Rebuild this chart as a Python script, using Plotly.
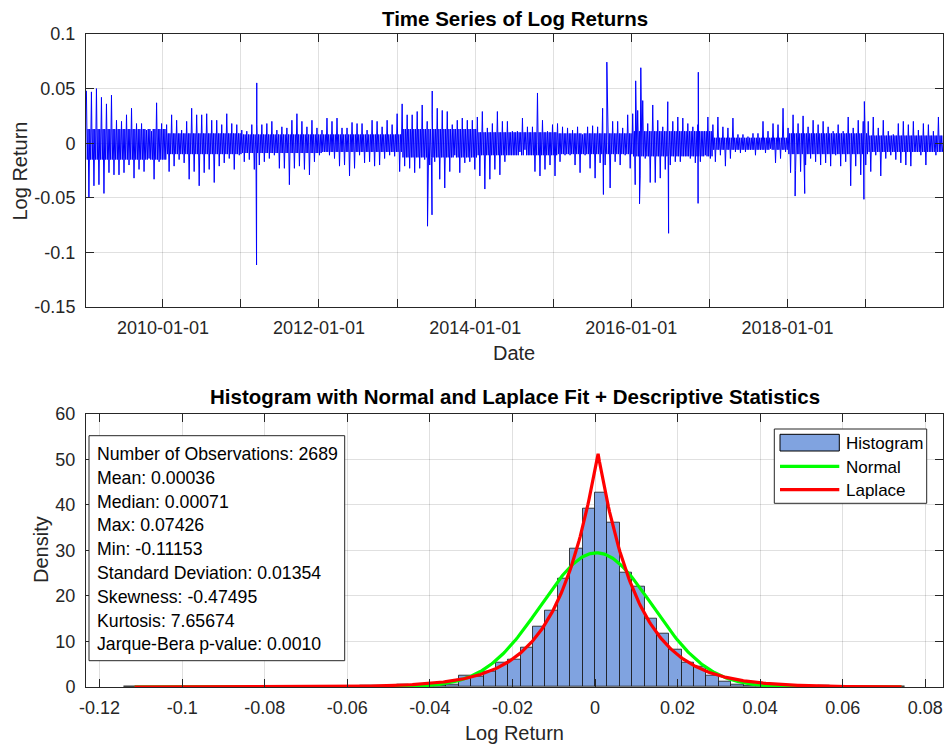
import numpy as np
import pandas as pd
import plotly.graph_objects as go

# ---------------- data ----------------
start_date = "2009-01-06"
end_date = "2019-12-30"

# per-interval high / low envelope of the daily log returns (171 equal intervals)
seg_high = [0.048, 0.047, 0.050, 0.042, 0.036, 0.044, 0.021, 0.020, 0.026, 0.032,
            0.018, 0.018, 0.012, 0.011, 0.037, 0.018, 0.017, 0.026, 0.021, 0.012,
            0.020, 0.032, 0.026, 0.026, 0.027, 0.021, 0.021, 0.017, 0.027, 0.018,
            0.017, 0.012, 0.011, 0.017, 0.017, 0.017, 0.018, 0.020, 0.012, 0.015,
            0.014, 0.021, 0.027, 0.020, 0.015, 0.021, 0.014, 0.012, 0.023, 0.020,
            0.023, 0.014, 0.014, 0.019, 0.018, 0.018, 0.012, 0.021, 0.020, 0.015,
            0.021, 0.017, 0.027, 0.036, 0.026, 0.026, 0.029, 0.035, 0.020, 0.026,
            0.032, 0.030, 0.029, 0.017, 0.021, 0.023, 0.021, 0.021, 0.024, 0.029,
            0.014, 0.018, 0.029, 0.020, 0.020, 0.011, 0.011, 0.023, 0.015, 0.015,
            0.046, 0.021, 0.011, 0.017, 0.018, 0.015, 0.014, 0.012, 0.015, 0.008,
            0.015, 0.016, 0.015, 0.032, 0.026, 0.020, 0.020, 0.014, 0.026, 0.027,
            0.030, 0.039, 0.018, 0.035, 0.021, 0.015, 0.038, 0.020, 0.024, 0.023,
            0.018, 0.015, 0.017, 0.011, 0.024, 0.017, 0.024, 0.015, 0.014, 0.023,
            0.008, 0.008, 0.006, 0.009, 0.009, 0.020, 0.011, 0.018, 0.017, 0.032,
            0.014, 0.026, 0.018, 0.025, 0.015, 0.021, 0.017, 0.020, 0.015, 0.011,
            0.017, 0.011, 0.024, 0.014, 0.021, 0.020, 0.020, 0.024, 0.014, 0.021,
            0.011, 0.008, 0.018, 0.020, 0.017, 0.020, 0.012, 0.018, 0.017, 0.011,
            0.024]
seg_low = [-0.050, -0.039, -0.038, -0.046, -0.027, -0.029, -0.029, -0.027, -0.020, -0.032,
           -0.024, -0.026, -0.014, -0.033, -0.017, -0.015, -0.026, -0.021, -0.015, -0.018,
           -0.033, -0.026, -0.039, -0.027, -0.024, -0.036, -0.021, -0.018, -0.014, -0.024,
           -0.011, -0.017, -0.015, -0.024, -0.020, -0.017, -0.014, -0.011, -0.023, -0.023,
           -0.038, -0.023, -0.021, -0.024, -0.029, -0.017, -0.011, -0.008, -0.011, -0.014,
           -0.021, -0.020, -0.030, -0.023, -0.011, -0.018, -0.017, -0.021, -0.020, -0.014,
           -0.011, -0.012, -0.026, -0.021, -0.023, -0.027, -0.023, -0.015, -0.020, -0.017,
           -0.033, -0.041, -0.026, -0.011, -0.027, -0.018, -0.017, -0.024, -0.030, -0.042,
           -0.033, -0.024, -0.029, -0.017, -0.011, -0.011, -0.008, -0.006, -0.011, -0.026,
           -0.030, -0.024, -0.020, -0.030, -0.017, -0.011, -0.011, -0.020, -0.027, -0.011,
           -0.023, -0.032, -0.018, -0.020, -0.041, -0.017, -0.020, -0.011, -0.023, -0.038,
           -0.030, -0.014, -0.036, -0.036, -0.032, -0.024, -0.020, -0.017, -0.017, -0.012,
           -0.014, -0.018, -0.017, -0.011, -0.014, -0.017, -0.011, -0.021, -0.014, -0.008,
           -0.009, -0.008, -0.006, -0.011, -0.006, -0.009, -0.005, -0.018, -0.014, -0.008,
           -0.027, -0.025, -0.026, -0.020, -0.014, -0.017, -0.020, -0.018, -0.021, -0.011,
           -0.021, -0.017, -0.039, -0.021, -0.029, -0.020, -0.026, -0.011, -0.030, -0.014,
           -0.011, -0.015, -0.018, -0.020, -0.021, -0.008, -0.011, -0.020, -0.008, -0.011,
           -0.008]

# dense core band of the daily returns, per calendar year 2009..2019
core_years = [2009, 2010, 2011, 2012, 2013, 2014, 2015, 2016, 2017, 2018, 2019]
core_upper = [0.013, 0.009, 0.008, 0.008, 0.013, 0.010, 0.009, 0.011, 0.005, 0.009, 0.007]
core_lower = [-0.015, -0.010, -0.009, -0.008, -0.013, -0.011, -0.010, -0.012, -0.006, -0.010, -0.008]

# isolated large moves
spike_dates = ["2011-03-15", "2011-03-16", "2013-05-23", "2013-06-13", "2013-06-14",
               "2015-08-24", "2015-09-09", "2016-01-22", "2016-02-09", "2016-02-15",
               "2016-06-24", "2016-11-09", "2016-11-10", "2018-02-06", "2018-03-23",
               "2018-12-25", "2018-12-27"]
spike_values = [-0.11153, 0.0552, -0.0760, -0.0656, 0.0478,
                -0.0470, 0.07426, 0.0571, -0.0555, 0.0691,
                -0.0825, -0.0551, 0.0650, -0.0484, -0.0461,
                -0.0514, 0.0382]

# descriptive statistics
n_obs = 2689
mean_ret = 0.00036
median_ret = 0.00071
max_ret = 0.07426
min_ret = -0.11153
std_ret = 0.01354
skewness = -0.47495
kurtosis = 7.65674
jb_pvalue = 0.0010
laplace_b = 0.00973

# histogram (pdf normalisation), bins of width 0.003 starting at -0.114
hist_first_edge = -0.114
hist_bin_width = 0.003
hist_density = [0.12, 0, 0, 0, 0, 0, 0, 0, 0, 0,
                0.12, 0, 0.12, 0, 0, 0, 0.12, 0, 0, 0.25,
                0.25, 0.25, 0.5, 0.25, 0.37, 0.37, 0.5, 2.5, 2.2, 3.3,
                5.3, 5.9, 8.6, 13.3, 16.8, 23.7, 30.4, 39.2, 42.6, 36.0,
                25.1, 22.1, 15.0, 11.6, 8.1, 5.4, 4.5, 2.5, 1.1, 0.5,
                0.2, 0.25, 0.12, 0.25, 0.12, 0.12, 0.25, 0, 0, 0.12,
                0, 0.12, 0.12]

year_ticks = list(range(2010, 2020))
hist_xticks = [-0.12, -0.1, -0.08, -0.06, -0.04, -0.02, 0, 0.02, 0.04, 0.06, 0.08]
legend_labels = ["Histogram", "Normal", "Laplace"]

# ---------------- build traces ----------------
edges = pd.date_range(start_date, end_date, periods=len(seg_high) + 1)
pts = []
for i, (h, l) in enumerate(zip(seg_high, seg_low)):
    t0, t1 = edges[i], edges[i + 1]
    yi = core_years.index(t0.year)
    cu, cl = core_upper[yi], core_lower[yi]
    seq = [h, cl, cu, l, cu, cl]
    for j, v in enumerate(seq):
        pts.append((t0 + (t1 - t0) * ((j + 0.5) / len(seq)), v))
for d, v in zip(spike_dates, spike_values):
    pts.append((pd.Timestamp(d), v))
pts.sort(key=lambda p: p[0])
ts_x = [p[0] for p in pts]
ts_y = [p[1] for p in pts]

centers = [hist_first_edge + hist_bin_width * (k + 0.5) for k in range(len(hist_density))]
xs = np.linspace(min_ret, max_ret, 600)
normal_pdf = np.exp(-0.5 * ((xs - mean_ret) / std_ret) ** 2) / (std_ret * np.sqrt(2 * np.pi))
laplace_pdf = np.exp(-np.abs(xs - median_ret) / laplace_b) / (2 * laplace_b)

FONT = "Liberation Sans, Arial, Helvetica, sans-serif"
AX = "#262626"
GRID = "rgba(0,0,0,0.12)"
BAR_COLOR = "rgb(128,163,224)"
NORMAL_COLOR = "#00ff00"
LAPLACE_COLOR = "#ff0000"

fig = go.Figure()
fig.add_trace(go.Scatter(x=ts_x, y=ts_y, mode="lines", line=dict(color="#0000ff", width=1),
                         showlegend=False, xaxis="x", yaxis="y"))
fig.add_trace(go.Bar(x=centers, y=hist_density, width=hist_bin_width, showlegend=False,
                     marker=dict(color=BAR_COLOR, line=dict(color="rgba(20,20,20,0.8)", width=1)),
                     xaxis="x2", yaxis="y2"))
fig.add_trace(go.Scatter(x=xs, y=normal_pdf, mode="lines", showlegend=False,
                         line=dict(color=NORMAL_COLOR, width=3.2), xaxis="x2", yaxis="y2"))
fig.add_trace(go.Scatter(x=xs, y=laplace_pdf, mode="lines", showlegend=False,
                         line=dict(color=LAPLACE_COLOR, width=3.2), xaxis="x2", yaxis="y2"))

common = dict(showline=True, linecolor=AX, linewidth=1, mirror="allticks", ticks="inside",
              ticklen=8, tickcolor=AX, showgrid=True, gridcolor=GRID, gridwidth=1,
              zeroline=False, tickfont=dict(family=FONT, size=18, color=AX))

top_dom = [(687 - 307) / 653, 1.0]
bot_dom = [0.0, (687 - 413.7) / 653]

fig.update_layout(
    width=944, height=745, margin=dict(l=86, r=1, t=34, b=58),
    paper_bgcolor="white", plot_bgcolor="white", bargap=0, showlegend=False,
    font=dict(family=FONT, color=AX),
    xaxis=dict(domain=[0, 1], anchor="y", type="date", range=[start_date, end_date],
               tickvals=[f"{y}-01-01" for y in year_ticks],
               ticktext=[f"{y}-01-01" if y % 2 == 0 else "" for y in year_ticks],
               ticklabelstandoff=4, **common),
    yaxis=dict(domain=top_dom, anchor="x", range=[-0.15, 0.1],
               tickvals=[-0.15, -0.1, -0.05, 0, 0.05, 0.1],
               ticktext=["-0.15", "-0.1", "-0.05", "0", "0.05", "0.1"],
               ticklabelstandoff=6, **common),
    xaxis2=dict(domain=[0, 1], anchor="y2", range=[-0.1233, 0.0843],
                tickvals=hist_xticks,
                ticktext=[("-" if v < 0 else "") + f"{abs(v):g}" for v in hist_xticks],
                ticklabelstandoff=4, **common),
    yaxis2=dict(domain=bot_dom, anchor="x2", range=[0, 60], tickvals=list(range(0, 61, 10)),
                ticklabelstandoff=6, **common),
)


def px(xp):
    return (xp - 86) / 857


def py(yp):
    return (687 - yp) / 653


ann = [
    dict(text="<b>Time Series of Log Returns</b>", x=px(514.5), y=py(18.3), size=20.5, angle=0),
    dict(text="<b>Histogram with Normal and Laplace Fit + Descriptive Statistics</b>",
         x=px(514.5), y=py(396.7), size=20.5, angle=0),
    dict(text="Log Return", x=px(19.5), y=py(171), size=20, angle=-90),
    dict(text="Date", x=px(514), y=py(353), size=20, angle=0),
    dict(text="Density", x=px(41), y=py(550), size=20, angle=-90),
    dict(text="Log Return", x=px(514), y=py(733), size=20, angle=0),
]
for a in ann:
    fig.add_annotation(text=a["text"], x=a["x"], y=a["y"], xref="paper", yref="paper",
                       showarrow=False, textangle=a["angle"], xanchor="center", yanchor="middle",
                       font=dict(family=FONT, size=a["size"], color="black" if "<b>" in a["text"] else AX))

# descriptive statistics box
stats_lines = [
    f"Number of Observations: {n_obs}",
    f"Mean: {mean_ret:.5f}",
    f"Median: {median_ret:.5f}",
    f"Max: {max_ret:.5f}",
    f"Min: {min_ret:.5f}",
    f"Standard Deviation: {std_ret:.5f}",
    f"Skewness: {skewness:.5f}",
    f"Kurtosis: {kurtosis:.5f}",
    f"Jarque-Bera p-value: {jb_pvalue:.4f}",
]
fig.add_shape(type="rect", xref="paper", yref="paper", x0=px(89), x1=px(344.7),
              y0=py(660.7), y1=py(435.7), line=dict(color=AX, width=1), fillcolor="white", layer="above")
for i, line in enumerate(stats_lines):
    fig.add_annotation(text=line, x=px(95), y=py(454 + 23.8 * i), xref="paper", yref="paper",
                       xanchor="left", yanchor="middle", showarrow=False,
                       font=dict(family=FONT, size=17.7, color="black"))

# legend (drawn manually to reproduce the wide MATLAB-style keys)
fig.add_shape(type="rect", xref="paper", yref="paper", x0=px(774.3), x1=px(926.7),
              y0=py(503.3), y1=py(429), line=dict(color=AX, width=1), fillcolor="white", layer="above")
fig.add_shape(type="rect", xref="paper", yref="paper", x0=px(780), x1=px(839.3),
              y0=py(451), y1=py(434.3), line=dict(color="black", width=1), fillcolor=BAR_COLOR, layer="above")
for yy, col in [(466.3, NORMAL_COLOR), (489.7, LAPLACE_COLOR)]:
    fig.add_shape(type="line", xref="paper", yref="paper", x0=px(780), x1=px(839.3),
                  y0=py(yy), y1=py(yy), line=dict(color=col, width=3.2), layer="above")
for yy, lab in zip([443.5, 467, 490.5], legend_labels):
    fig.add_annotation(text=lab, x=px(843.5), y=py(yy), xref="paper", yref="paper",
                       xanchor="left", yanchor="middle", showarrow=False,
                       font=dict(family=FONT, size=17, color="black"))

fig.write_html("out.html")
